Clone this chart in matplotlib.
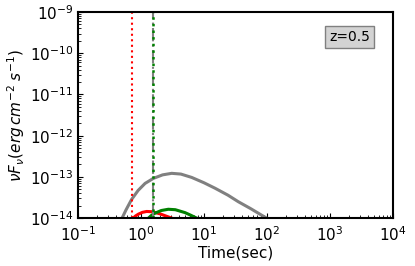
import matplotlib
matplotlib.use("Agg")
import matplotlib.pyplot as plt

# curves (time in sec, flux in erg cm^-2 s^-1)
gray_t = [0.50, 0.58, 0.71, 0.9, 1.16, 1.57, 2.2, 3.07, 4.3, 6.38, 10.0, 15.0, 24.0, 35.0, 55.0, 82.0, 99.0]
gray_f = [1.0e-14, 1.6e-14, 2.85e-14, 4.7e-14, 6.95e-14, 9.2e-14, 1.12e-13, 1.22e-13, 1.17e-13, 9.7e-14,
          7.2e-14, 5.3e-14, 3.6e-14, 2.5e-14, 1.7e-14, 1.18e-14, 1.0e-14]

red_t = [0.75, 0.82, 0.91, 1.05, 1.23, 1.5, 2.0, 2.5, 3.07]
red_f = [1.0e-14, 1.13e-14, 1.25e-14, 1.38e-14, 1.45e-14, 1.43e-14, 1.27e-14, 1.12e-14, 1.0e-14]

green_t = [1.31, 1.45, 1.67, 2.1, 2.71, 3.5, 4.99, 6.2, 7.65]
green_f = [1.0e-14, 1.15e-14, 1.32e-14, 1.53e-14, 1.64e-14, 1.6e-14, 1.36e-14, 1.17e-14, 1.0e-14]

red_vline = 0.71
green_vline = 1.57
label = "z=0.5"

fig = plt.figure(figsize=(4.15, 2.66), dpi=100)
ax = fig.add_axes([0.188, 0.180, 0.759, 0.775])

ax.plot(gray_t, gray_f, color="gray", lw=2.2)
ax.plot(red_t, red_f, color="red", lw=2.2)
ax.plot(green_t, green_f, color="green", lw=2.2)
ax.axvline(red_vline, color="red", ls=":", lw=1.5)
ax.axvline(green_vline, color="gray", ls="-.", lw=1.5)
ax.axvline(green_vline, color="green", ls=":", lw=1.8)

ax.set_xscale("log")
ax.set_yscale("log")
ax.set_xlim(1e-1, 1e4)
ax.set_ylim(1e-14, 1e-9)
ax.tick_params(which="both", direction="in", labelsize=11)
ax.tick_params(axis="x", pad=5)
for s in ax.spines.values():
    s.set_linewidth(1.5)

ax.set_xlabel("Time(sec)", fontsize=11, labelpad=1)
ax.set_ylabel(r"$\nu F_{\nu} (erg\, cm^{-2}\; s^{-1})$", fontsize=11, labelpad=2)

ax.text(0.863, 0.879, label, transform=ax.transAxes, ha="center", va="center",
        fontsize=10, bbox=dict(boxstyle="square,pad=0.3", facecolor="lightgray", edgecolor="gray"))

fig.savefig("out.png", dpi=100)
